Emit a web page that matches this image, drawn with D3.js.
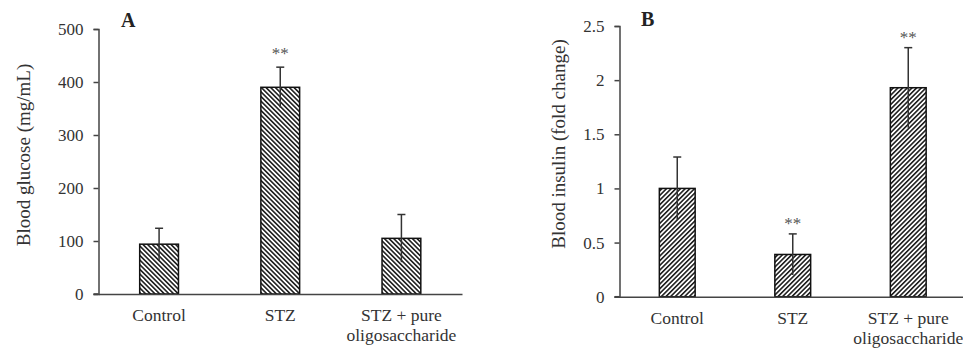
<!DOCTYPE html>
<html>
<head>
<meta charset="utf-8">
<script src="https://cdn.jsdelivr.net/npm/d3@7"></script>
<style>
  body { margin: 0; background: #fff; }
  svg { display: block; font-family: "Liberation Serif", "Times New Roman", serif; }
  .tick text { fill: #333; font-size: 17px; font-family: "Liberation Serif", "Times New Roman", serif; }
  .domain, .tick line { stroke: #444; stroke-width: 1.5; }
</style>
</head>
<body>
<div id="chart"></div>
<script>
const categories = ["Control", "STZ", "STZ + pure oligosaccharide"];
const categoryLines = [["Control"], ["STZ"], ["STZ + pure", "oligosaccharide"]];

const glucoseMean = [94, 390, 105];
const glucoseErr = [30, 38, 45];
const glucoseStars = ["", "**", ""];
const glucoseTicks = [0, 100, 200, 300, 400, 500];

const insulinMean = [1.0, 0.39, 1.93];
const insulinErr = [0.29, 0.19, 0.37];
const insulinStars = ["", "**", "**"];
const insulinTicks = [0, 0.5, 1, 1.5, 2, 2.5];

const svg = d3.select("#chart")
    .append("svg")
    .attr("width", 963)
    .attr("height", 348);

// hatch patterns: A goes "\\", B goes "//"
const defs = svg.append("defs");
function hatch(id, angle) {
    const p = defs.append("pattern")
        .attr("id", id)
        .attr("patternUnits", "userSpaceOnUse")
        .attr("width", 3.3)
        .attr("height", 10)
        .attr("patternTransform", `rotate(${angle})`);
    p.append("rect").attr("width", 3.3).attr("height", 10).attr("fill", "#fff");
    p.append("line")
        .attr("x1", 0.8).attr("x2", 0.8)
        .attr("y1", 0).attr("y2", 10)
        .attr("stroke", "#111")
        .attr("stroke-width", 1.5);
}
hatch("hatchA", -45);
hatch("hatchB", 45);

function drawPanel(cfg) {
    const g = svg.append("g");

    const x = d3.scaleBand()
        .domain(categories)
        .range([cfg.left, cfg.right])
        .paddingInner(cfg.pad)
        .paddingOuter(cfg.pad / 2);

    const y = d3.scaleLinear()
        .domain([0, d3.max(cfg.ticks)])
        .range([cfg.bottom, cfg.top]);

    // y axis
    g.append("g")
        .attr("transform", `translate(${cfg.left}, 0)`)
        .call(d3.axisLeft(y)
            .tickValues(cfg.ticks)
            .tickFormat(d => d)
            .tickSize(5)
            .tickPadding(10))
        .attr("font-family", null)
        .attr("font-size", null);

    const rows = categories.map((c, i) => ({
        cat: c, mean: cfg.mean[i], err: cfg.err[i], star: cfg.stars[i], lines: categoryLines[i]
    }));

    // bars
    g.selectAll(".bar")
        .data(rows)
        .enter()
        .append("rect")
        .attr("class", "bar")
        .attr("x", d => x(d.cat))
        .attr("y", d => y(d.mean))
        .attr("width", x.bandwidth())
        .attr("height", d => y(0) - y(d.mean))
        .attr("fill", `url(#${cfg.pattern})`)
        .attr("stroke", "#111")
        .attr("stroke-width", 1.5);

    // error bars (upper cap only)
    const cx = d => x(d.cat) + x.bandwidth() / 2;
    g.selectAll(".err")
        .data(rows)
        .enter()
        .append("line")
        .attr("class", "err")
        .attr("x1", cx).attr("x2", cx)
        .attr("y1", d => y(d.mean - d.err))
        .attr("y2", d => y(d.mean + d.err))
        .attr("stroke", "#333")
        .attr("stroke-width", 1.5);

    g.selectAll(".cap")
        .data(rows)
        .enter()
        .append("line")
        .attr("class", "cap")
        .attr("x1", d => cx(d) - 4).attr("x2", d => cx(d) + 4)
        .attr("y1", d => y(d.mean + d.err))
        .attr("y2", d => y(d.mean + d.err))
        .attr("stroke", "#333")
        .attr("stroke-width", 1.5);

    g.selectAll(".star")
        .data(rows.filter(d => d.star))
        .enter()
        .append("text")
        .attr("class", "star")
        .attr("x", cx)
        .attr("y", d => y(d.mean + d.err) - cfg.starGap)
        .attr("text-anchor", "middle")
        .attr("fill", "#555")
        .style("font-size", "17px")
        .text(d => d.star);

    // x axis
    g.append("g")
        .attr("transform", `translate(0, ${cfg.bottom})`)
        .call(d3.axisBottom(x).tickSize(0).tickSizeOuter(0).tickFormat(""));
    g.append("line")
        .attr("x1", cfg.left - 5).attr("x2", cfg.left)
        .attr("y1", cfg.bottom).attr("y2", cfg.bottom)
        .attr("stroke", "#444").attr("stroke-width", 1.5);

    const lab = g.selectAll(".xlab")
        .data(rows)
        .enter()
        .append("text")
        .attr("class", "xlab")
        .attr("text-anchor", "middle")
        .attr("fill", "#333")
        .style("font-size", "17.5px");
    lab.selectAll("tspan")
        .data(d => d.lines.map(l => ({ l, cx: cx(d) })))
        .enter()
        .append("tspan")
        .attr("x", d => d.cx)
        .attr("y", (d, i) => cfg.bottom + 27 + i * 20)
        .text(d => d.l);

    // axis title
    g.append("text")
        .attr("transform", `translate(${cfg.titleX}, ${cfg.titleY}) rotate(-90)`)
        .attr("text-anchor", "middle")
        .attr("fill", "#333")
        .style("font-size", "19px")
        .text(cfg.title);

    // panel letter
    g.append("text")
        .attr("x", cfg.letterX)
        .attr("y", cfg.letterY)
        .attr("fill", "#222")
        .style("font-size", "20px")
        .style("font-weight", "bold")
        .text(cfg.letter);
}

drawPanel({
    left: 98.5, right: 462, top: 29, bottom: 294, pad: 0.68,
    ticks: glucoseTicks, mean: glucoseMean, err: glucoseErr, stars: glucoseStars,
    pattern: "hatchA", starGap: 8,
    title: "Blood glucose (mg/mL)", titleX: 30, titleY: 155,
    letter: "A", letterX: 121, letterY: 27
});

drawPanel({
    left: 619.5, right: 966, top: 26, bottom: 296.7, pad: 0.69,
    ticks: insulinTicks, mean: insulinMean, err: insulinErr, stars: insulinStars,
    pattern: "hatchB", starGap: 5,
    title: "Blood insulin (fold change)", titleX: 565, titleY: 144,
    letter: "B", letterX: 641, letterY: 26
});
</script>
</body>
</html>
